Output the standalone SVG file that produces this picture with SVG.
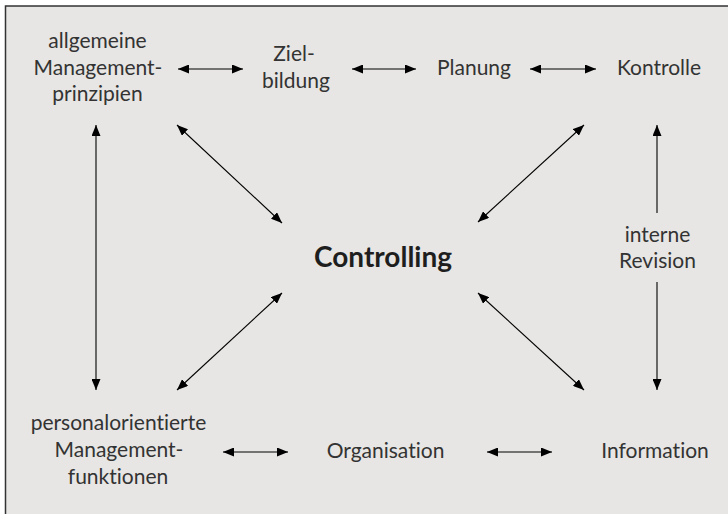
<svg xmlns="http://www.w3.org/2000/svg" width="728" height="514" viewBox="0 0 728 514">
<defs>
<marker id="ah" viewBox="0 0 11 9" refX="11" refY="4.5" markerWidth="11" markerHeight="9" markerUnits="userSpaceOnUse" orient="auto-start-reverse">
<path d="M0,0 L11,4.5 L0,9 z" fill="#000"/>
</marker>
<style>
text{font-family:Lato,"Noto Sans","Liberation Sans",sans-serif;font-size:21px;fill:#333;text-anchor:middle;font-variant-ligatures:none}
.b{font-weight:bold;font-size:28px;fill:#1e1e1e}
.c line{stroke:#000;stroke-width:1.1;fill:none}
.d2{marker-start:url(#ah);marker-end:url(#ah)}
.d1{marker-end:url(#ah)}
</style>
</defs>
<rect x="0" y="0" width="728" height="514" fill="#fff"/>
<rect x="5.5" y="6" width="730" height="520" fill="#e7e6e4" stroke="#333" stroke-width="1.5"/>
<g class="c" id="connectors">
<line class="d2" x1="178" y1="69" x2="243" y2="69"/>
<line class="d2" x1="352" y1="69" x2="416" y2="69"/>
<line class="d2" x1="530" y1="69" x2="596" y2="69"/>
<line class="d2" x1="96" y1="125" x2="96" y2="390"/>
<line class="d2" x1="177" y1="125" x2="282" y2="223"/>
<line class="d2" x1="282" y1="293" x2="177" y2="390"/>
<line class="d2" x1="584" y1="125" x2="478" y2="222"/>
<line class="d2" x1="478" y1="293" x2="584" y2="390"/>
<line class="d1" x1="657" y1="213" x2="657" y2="125"/>
<line class="d1" x1="657" y1="282" x2="657" y2="390"/>
<line class="d2" x1="223" y1="452" x2="288" y2="452"/>
<line class="d2" x1="487" y1="452" x2="552" y2="452"/>
</g>
<g id="allgemeine"><text x="97.5" y="48">allgemeine</text><text x="98" y="74.5">Management-</text><text x="97.5" y="101">prinzipien</text></g>
<g id="zielbildung"><text x="294" y="61">Ziel-</text><text x="296" y="87.5">bildung</text></g>
<g id="planung"><text x="474" y="75">Planung</text></g>
<g id="kontrolle"><text x="659" y="75">Kontrolle</text></g>
<g id="controlling"><text class="b" x="383" y="266.5">Controlling</text></g>
<g id="revision"><text x="657.5" y="241.5">interne</text><text x="657.5" y="268">Revision</text></g>
<g id="personal"><text x="118.5" y="430">personalorientierte</text><text x="119" y="457">Management-</text><text x="118" y="484">funktionen</text></g>
<g id="organisation"><text x="385.5" y="458">Organisation</text></g>
<g id="information"><text x="655" y="458">Information</text></g>
</svg>
